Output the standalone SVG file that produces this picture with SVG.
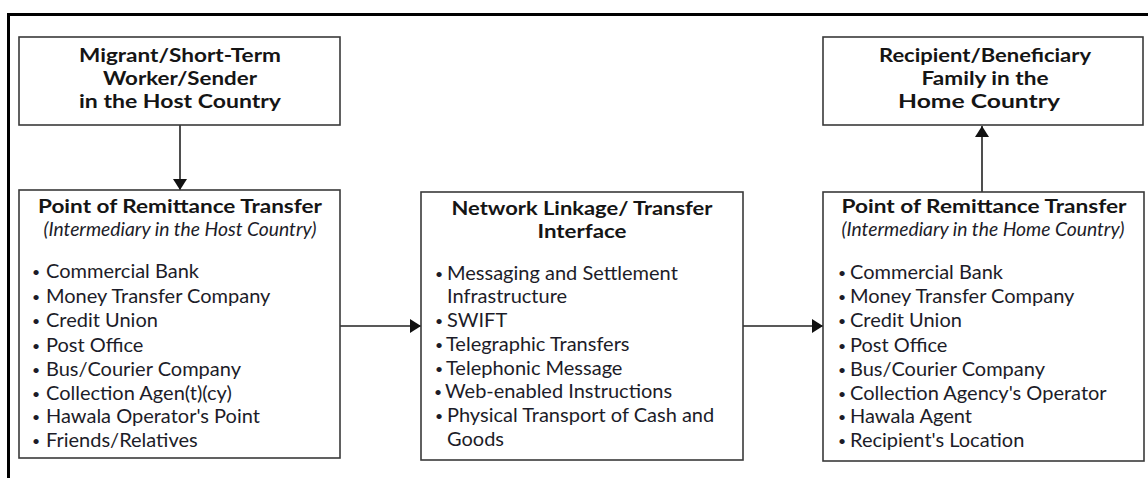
<svg xmlns="http://www.w3.org/2000/svg" width="1148" height="478" viewBox="0 0 1148 478">
<defs>
<style>
.box{fill:#fff;stroke:#3a3a3a;stroke-width:1.6}
.frame{fill:none;stroke:#000;stroke-width:3}
.t{font-family:Lato,"Open Sans","Liberation Sans",sans-serif;fill:#1c1c28}
.h{font-weight:bold;font-size:19px;text-anchor:middle;fill:#151515}
.i{font-style:italic;font-size:19.3px;text-anchor:middle}
.l{font-size:20px}
.b{font-size:14px}
.conn{stroke:#222;stroke-width:1.6;fill:none}
</style>
<marker id="ah" viewBox="0 0 11 14" refX="11" refY="7" markerWidth="11" markerHeight="14" markerUnits="userSpaceOnUse" orient="auto">
<path d="M0,0 L11,7 L0,14 z" fill="#111"/>
</marker>
</defs>
<rect width="1148" height="478" fill="#fff"/>
<path class="frame" d="M8.5,478 V14.5 H1148"/>
<g id="connectors">
<line class="conn" x1="180" y1="125" x2="180" y2="190" marker-end="url(#ah)"/>
<line class="conn" x1="340" y1="326" x2="421" y2="326" marker-end="url(#ah)"/>
<line class="conn" x1="743" y1="326" x2="823" y2="326" marker-end="url(#ah)"/>
<line class="conn" x1="982" y1="192" x2="982" y2="126" marker-end="url(#ah)"/>
</g>
<g id="sender">
<rect class="box" x="19" y="37" width="321" height="88"/>
<text class="t h" x="180" y="62" textLength="202" lengthAdjust="spacingAndGlyphs">Migrant/Short-Term</text>
<text class="t h" x="180" y="85" textLength="154" lengthAdjust="spacingAndGlyphs">Worker/Sender</text>
<text class="t h" x="180" y="108" textLength="202" lengthAdjust="spacingAndGlyphs">in the Host Country</text>
</g>
<g id="host-point">
<rect class="box" x="19" y="190" width="321" height="268"/>
<text class="t h" x="180" y="213" textLength="284" lengthAdjust="spacingAndGlyphs">Point of Remittance Transfer</text>
<text class="t i" x="180" y="236">(Intermediary in the Host Country)</text>
<g class="t b">
<text x="32" y="277">•</text><text x="32" y="302">•</text><text x="32" y="326">•</text><text x="32" y="351">•</text>
<text x="32" y="375">•</text><text x="32" y="399">•</text><text x="32" y="422">•</text><text x="32" y="446">•</text>
</g>
<g class="t l">
<text x="46" y="278">Commercial Bank</text>
<text x="46" y="303">Money Transfer Company</text>
<text x="46" y="327">Credit Union</text>
<text x="46" y="352">Post Office</text>
<text x="46" y="376">Bus/Courier Company</text>
<text x="46" y="400">Collection Agen(t)(cy)</text>
<text x="46" y="423">Hawala Operator's Point</text>
<text x="46" y="447">Friends/Relatives</text>
</g>
</g>
<g id="network">
<rect class="box" x="421" y="192" width="322" height="268"/>
<text class="t h" x="582" y="215" textLength="261" lengthAdjust="spacingAndGlyphs">Network Linkage/ Transfer</text>
<text class="t h" x="582" y="238" textLength="89" lengthAdjust="spacingAndGlyphs">Interface</text>
<g class="t b">
<text x="435" y="279">•</text><text x="435" y="326">•</text><text x="435" y="350">•</text>
<text x="435" y="374">•</text><text x="434" y="397">•</text><text x="435" y="421">•</text>
</g>
<g class="t l">
<text x="447" y="280">Messaging and Settlement</text>
<text x="447" y="303">Infrastructure</text>
<text x="447" y="327">SWIFT</text>
<text x="446" y="351">Telegraphic Transfers</text>
<text x="446" y="375">Telephonic Message</text>
<text x="445" y="398">Web-enabled Instructions</text>
<text x="447" y="422">Physical Transport of Cash and</text>
<text x="447" y="446">Goods</text>
</g>
</g>
<g id="home-point">
<rect class="box" x="823" y="192" width="321" height="269"/>
<text class="t h" x="984" y="213" textLength="285" lengthAdjust="spacingAndGlyphs">Point of Remittance Transfer</text>
<text class="t i" x="983" y="236">(Intermediary in the Home Country)</text>
<g class="t b">
<text x="838" y="278">•</text><text x="838" y="302">•</text><text x="838" y="326">•</text><text x="838" y="351">•</text>
<text x="838" y="375">•</text><text x="838" y="399">•</text><text x="838" y="422">•</text><text x="838" y="446">•</text>
</g>
<g class="t l">
<text x="850" y="279">Commercial Bank</text>
<text x="850" y="303">Money Transfer Company</text>
<text x="850" y="327">Credit Union</text>
<text x="850" y="352">Post Office</text>
<text x="850" y="376">Bus/Courier Company</text>
<text x="850" y="400">Collection Agency's Operator</text>
<text x="850" y="423">Hawala Agent</text>
<text x="850" y="447">Recipient's Location</text>
</g>
</g>
<g id="recipient">
<rect class="box" x="823" y="37" width="320" height="88"/>
<text class="t h" x="985" y="62" textLength="212" lengthAdjust="spacingAndGlyphs">Recipient/Beneficiary</text>
<text class="t h" x="985" y="85" textLength="127" lengthAdjust="spacingAndGlyphs">Family in the</text>
<text class="t h" x="979" y="108" textLength="162" lengthAdjust="spacingAndGlyphs">Home Country</text>
</g>
</svg>
